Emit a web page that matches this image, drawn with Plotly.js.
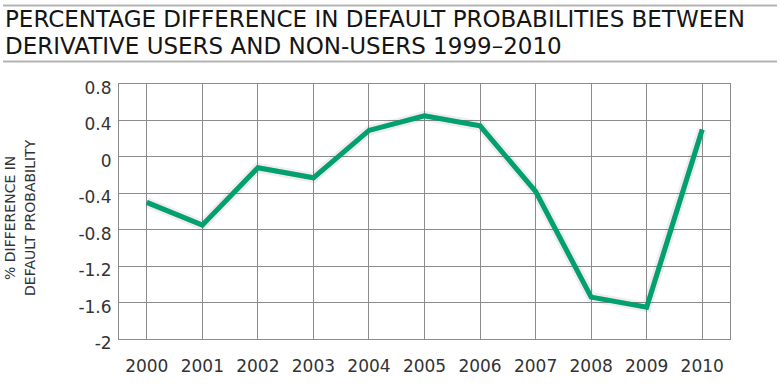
<!DOCTYPE html>
<html>
<head>
<meta charset="utf-8">
<script src="https://cdn.plot.ly/plotly-3.0.1.min.js"></script>
<style>html,body{margin:0;padding:0;background:#fff;}#chart{width:780px;height:388px;}</style>
</head>
<body>
<div id="chart"></div>
<script>
var years = [2000, 2001, 2002, 2003, 2004, 2005, 2006, 2007, 2008, 2009, 2010];
var pctDiff = [-0.50, -0.75, -0.12, -0.23, 0.29, 0.45, 0.34, -0.38, -1.54, -1.65, 0.30];
var yTicks = [0.8, 0.4, 0, -0.4, -0.8, -1.2, -1.6, -2];
var yTickText = ['0.8', '0.4', '0', '-0.4', '-0.8', '-1.2', '-1.6', '-2'];
var titleLines = ['PERCENTAGE DIFFERENCE IN DEFAULT PROBABILITIES BETWEEN', 'DERIVATIVE USERS AND NON-USERS 1999\u20132010'];
var yTitleLines = ['% DIFFERENCE IN', 'DEFAULT PROBABILITY'];

var W = 780, H = 388, L = 119, R = 50, T = 84, B = 49;
var pw = W - L - R, ph = H - T - B;
function px(xPix) { return (xPix - L) / pw; }
function py(yPix) { return (H - B - yPix) / ph; }
var dx = 3 / pw, dy = 3.5 / ph;

var fontFam = '"DejaVu Sans", sans-serif';

var traces = [
  {x: years, y: pctDiff, type: 'scatter', mode: 'lines', opacity: 0,
   line: {color: '#00a06f', width: 1}, hoverinfo: 'skip'},
  {x: years, y: pctDiff, type: 'scatter', mode: 'lines', xaxis: 'x2', yaxis: 'y2',
   line: {color: 'rgba(0,0,0,0.07)', width: 10}, hoverinfo: 'skip'},
  {x: years, y: pctDiff, type: 'scatter', mode: 'lines', xaxis: 'x2', yaxis: 'y2',
   line: {color: 'rgba(0,0,0,0.16)', width: 5}, hoverinfo: 'skip'},
  {x: years, y: pctDiff, type: 'scatter', mode: 'lines', xaxis: 'x3', yaxis: 'y3',
   line: {color: '#00a06f', width: 5}}
];

var layout = {
  width: W, height: H,
  margin: {l: L, r: R, t: T, b: B},
  paper_bgcolor: '#fff', plot_bgcolor: 'rgba(0,0,0,0)',
  showlegend: false,
  font: {family: fontFam, color: '#222'},
  xaxis: {range: [1999.5, 2010.5], tickvals: years, ticktext: years.map(String),
    showgrid: true, gridcolor: '#8c8c8c', gridwidth: 1,
    showline: true, linecolor: '#8c8c8c', linewidth: 1, mirror: true,
    zeroline: false, ticks: '', tickfont: {size: 17, color: '#333', family: fontFam}, ticklabelstandoff: 12},
  yaxis: {range: [-2, 0.8], tickvals: yTicks, ticktext: yTickText,
    showgrid: true, gridcolor: '#8c8c8c', gridwidth: 1,
    showline: true, linecolor: '#8c8c8c', linewidth: 1, mirror: true,
    zeroline: false, ticks: '', tickfont: {size: 17, color: '#333', family: fontFam}, ticklabelstandoff: 3,
    ticklabelshift: 4},
  xaxis2: {range: [1999.5, 2010.5], domain: [dx, 1 + dx], overlaying: 'x', visible: false, anchor: 'y2'},
  yaxis2: {range: [-2, 0.8], domain: [-dy, 1 - dy], overlaying: 'y', visible: false, anchor: 'x2'},
  xaxis3: {range: [1999.5, 2010.5], overlaying: 'x', visible: false, anchor: 'y3'},
  yaxis3: {range: [-2, 0.8], overlaying: 'y', visible: false, anchor: 'x3'},
  annotations: [
    {xref: 'paper', yref: 'paper', x: px(3), y: py(18.5), xanchor: 'left', yanchor: 'middle',
     text: titleLines[0], showarrow: false, align: 'left',
     font: {size: 23, color: '#151515', family: fontFam}},
    {xref: 'paper', yref: 'paper', x: px(3), y: py(46), xanchor: 'left', yanchor: 'middle',
     text: titleLines[1], showarrow: false, align: 'left',
     font: {size: 23, color: '#151515', family: fontFam}},
    {xref: 'paper', yref: 'paper', x: px(10), y: py(218), xanchor: 'center', yanchor: 'middle',
     text: yTitleLines[0], showarrow: false, textangle: -90,
     font: {size: 14, color: '#333', family: fontFam}},
    {xref: 'paper', yref: 'paper', x: px(30), y: py(218), xanchor: 'center', yanchor: 'middle',
     text: yTitleLines[1], showarrow: false, textangle: -90,
     font: {size: 14, color: '#333', family: fontFam}}
  ],
  shapes: [
    {type: 'line', xref: 'paper', yref: 'paper', x0: px(3), x1: px(777),
     y0: py(5.5), y1: py(5.5), line: {color: '#b3b3b3', width: 2}},
    {type: 'line', xref: 'paper', yref: 'paper', x0: px(3), x1: px(777),
     y0: py(61.5), y1: py(61.5), line: {color: '#b3b3b3', width: 2}}
  ]
};

Plotly.newPlot('chart', traces, layout, {displayModeBar: false, staticPlot: true});
</script>
</body>
</html>
